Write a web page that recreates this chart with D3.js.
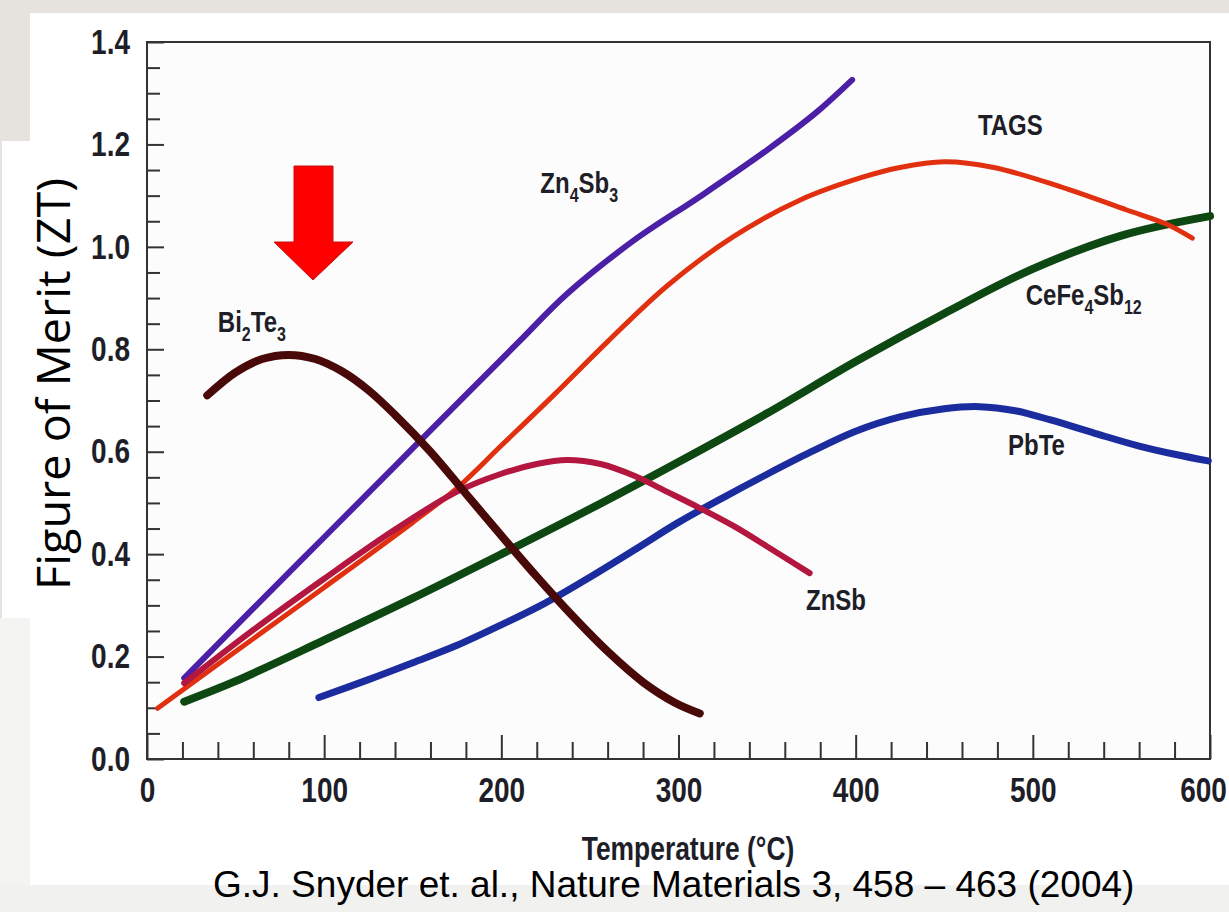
<!DOCTYPE html>
<html>
<head>
<meta charset="utf-8">
<script src="https://cdn.jsdelivr.net/npm/d3@7"></script>
<style>
  body { margin: 0; background: #e6e3df; }
  svg { display: block; }
  .narrow { font-family: 'Liberation Sans', Arial, sans-serif; font-weight: bold; fill: #1e1e28; }
</style>
</head>
<body>
<div id="vis-holder"></div>
<script>

var X_TICKS = [0, 100, 200, 300, 400, 500, 600]
var Y_TICKS = [0.0, 0.2, 0.4, 0.6, 0.8, 1.0, 1.2, 1.4]

// [temperature (C), ZT]
var CEFE4SB12 = [[21,0.112],[50,0.152],[100,0.232],[150,0.314],[200,0.4],[250,0.488],[300,0.58],[350,0.675],[400,0.776],[450,0.87],[500,0.957],[550,1.022],[600,1.06]]
var PBTE = [[97,0.12],[125,0.155],[150,0.188],[175,0.222],[200,0.262],[225,0.305],[250,0.355],[275,0.408],[300,0.462],[325,0.51],[350,0.556],[375,0.6],[400,0.64],[425,0.668],[450,0.684],[470,0.688],[490,0.68],[510,0.662],[535,0.636],[560,0.611],[580,0.595],[599,0.582]]
var ZN4SB3 = [[21,0.158],[60,0.294],[100,0.433],[140,0.572],[180,0.711],[210,0.815],[237,0.908],[275,1.013],[312,1.098],[350,1.189],[378,1.263],[398,1.326]]
var TAGS = [[6,0.099],[50,0.21],[100,0.335],[150,0.462],[175,0.529],[200,0.612],[230,0.712],[260,0.815],[294,0.925],[331,1.02],[369,1.092],[403,1.135],[425,1.155],[450,1.166],[478,1.155],[515,1.118],[553,1.072],[575,1.045],[590,1.017]]
var ZNSB = [[21,0.148],[60,0.252],[100,0.352],[140,0.448],[175,0.522],[200,0.557],[220,0.576],[237,0.584],[256,0.576],[275,0.553],[294,0.521],[312,0.49],[331,0.455],[350,0.415],[374,0.363]]
var BI2TE3 = [[34,0.71],[50,0.755],[65,0.781],[80,0.789],[95,0.781],[110,0.757],[125,0.72],[140,0.672],[160,0.6],[180,0.518],[200,0.436],[220,0.356],[240,0.28],[260,0.21],[280,0.15],[298,0.11],[312,0.089]]

// label text, subscripts as [..]
var LABEL_PARTS = {
  CeFe4Sb12: ["CeFe", ["4"], "Sb", ["12"]],
  PbTe: ["PbTe"],
  Zn4Sb3: ["Zn", ["4"], "Sb", ["3"]],
  TAGS: ["TAGS"],
  ZnSb: ["ZnSb"],
  Bi2Te3: ["Bi", ["2"], "Te", ["3"]]
}
// label anchor in data units
var LABEL_AT = {
  CeFe4Sb12: [496, 0.887], PbTe: [486, 0.594], Zn4Sb3: [222, 1.105],
  TAGS: [469, 1.218], ZnSb: [372, 0.291], Bi2Te3: [40, 0.834]
}

var COLORS = {CeFe4Sb12: "#0d4813", PbTe: "#1b2c9e", Zn4Sb3: "#4b20a6", TAGS: "#e1300f", ZnSb: "#b3173f", Bi2Te3: "#4a0909"}
var WIDTHS = {CeFe4Sb12: 8, PbTe: 7, Zn4Sb3: 6, TAGS: 5, ZnSb: 6, Bi2Te3: 8}

var series = [
  {name: "CeFe4Sb12", values: CEFE4SB12},
  {name: "PbTe", values: PBTE},
  {name: "Zn4Sb3", values: ZN4SB3},
  {name: "TAGS", values: TAGS},
  {name: "ZnSb", values: ZNSB},
  {name: "Bi2Te3", values: BI2TE3}
]

// bold Liberation Sans squeezed sideways looks like the narrow face of the figure
var SQUEEZE = 0.8

var W = 1229, H = 912
var margin = {top: 42, left: 147},
    width = 1063,
    height = 717;

var svg = d3.select("#vis-holder")
  .append("svg")
    .attr("width", W)
    .attr("height", H)

// slide backgrounds
svg.append("rect").attr("width", W).attr("height", H).attr("fill", "#e6e3df")
svg.append("rect").attr("x", 30).attr("y", 13).attr("width", W - 30).attr("height", 872).attr("fill", "#ffffff")
svg.append("rect").attr("x", 0).attr("y", 618).attr("width", 30).attr("height", 267).attr("fill", "#f4f4f3")
svg.append("rect").attr("x", 0).attr("y", 885).attr("width", W).attr("height", 27).attr("fill", "#f1f1f0")
svg.append("rect").attr("x", 2).attr("y", 141).attr("width", 40).attr("height", 477).attr("fill", "#ffffff")

var plot = svg.append("g")
    .attr("transform", "translate(" + margin.left + "," + margin.top + ")");

var x = d3.scaleLinear().domain([0, 600]).range([0, width]);
var y = d3.scaleLinear().domain([0, 1.4]).range([height, 0]);

plot.append("rect")
  .attr("width", width).attr("height", height)
  .attr("fill", "#fcfcfc")

// minor ticks
var yMinor = d3.range(1, 28).map(i => +(i * 0.05).toFixed(2)).filter(v => Math.abs(v / 0.2 - Math.round(v / 0.2)) > 1e-6)
var xMinor = d3.range(1, 30).map(i => i * 20).filter(v => v % 100 != 0)

plot.append("g")
  .call(d3.axisLeft(y).tickValues(yMinor).tickSize(-13).tickFormat(""))
  .call(g => g.select(".domain").remove())
plot.append("g")
  .attr("transform", "translate(0," + height + ")")
  .call(d3.axisBottom(x).tickValues(xMinor).tickSize(-17).tickFormat(""))
  .call(g => g.select(".domain").remove())

// Add Y axis
plot.append("g")
  .attr("class", "yaxis")
  .call(d3.axisLeft(y).tickValues(Y_TICKS).tickSize(-17).tickPadding(17).tickFormat(d3.format(".1f")))
  .call(g => g.select(".domain").remove())

// Add X axis
plot.append("g")
  .attr("class", "xaxis")
  .attr("transform", "translate(0," + height + ")")
  .call(d3.axisBottom(x).tickValues(X_TICKS).tickSize(-24).tickPadding(18))
  .call(g => g.select(".domain").remove())

plot.selectAll(".tick line").attr("stroke", "#333").attr("stroke-width", 2)
plot.selectAll(".yaxis text, .xaxis text")
  .attr("class", "narrow")
  .attr("font-size", 35)
  .style("font-family", null)
  .attr("transform", "scale(" + SQUEEZE + ",1)")
plot.selectAll(".yaxis text").attr("x", -17 / SQUEEZE)
plot.selectAll(".xaxis .tick:last-child text").attr("x", -7 / SQUEEZE)

plot.append("rect")
  .attr("width", width).attr("height", height)
  .attr("fill", "none").attr("stroke", "#333").attr("stroke-width", 2)

// curves
var line = d3.line()
  .x(d => x(d[0]))
  .y(d => y(d[1]))
  .curve(d3.curveCatmullRom.alpha(0.5))

plot.append("g")
  .selectAll("path")
  .data(series)
  .enter()
  .append("path")
    .attr("d", d => line(d.values))
    .attr("fill", "none")
    .attr("stroke", d => COLORS[d.name])
    .attr("stroke-width", d => WIDTHS[d.name])
    .attr("stroke-linecap", "round")
    .attr("stroke-linejoin", "round")

// curve labels
plot.append("g")
  .selectAll("text")
  .data(series)
  .enter()
  .append("text")
    .attr("class", "narrow")
    .attr("transform", d => "translate(" + x(LABEL_AT[d.name][0]) + "," + y(LABEL_AT[d.name][1]) + ") scale(" + SQUEEZE + ",1)")
    .attr("font-size", 30)
    .each(function(d) {
      var t = d3.select(this), wasSub = false
      LABEL_PARTS[d.name].forEach(p => {
        var sub = Array.isArray(p)
        t.append("tspan")
          .text(sub ? p[0] : p)
          .attr("font-size", sub ? 20 : 30)
          .attr("dy", sub ? (wasSub ? 0 : 9) : (wasSub ? -9 : 0))
        wasSub = sub
      })
    })

// arrow
svg.append("path")
  .attr("d", "M294,166 L333,166 L333,242 L353,242 L313,280 L274,242 L294,242 Z")
  .attr("fill", "#ff0000")
  .attr("stroke", "#c81010")
  .attr("stroke-width", 1)

// axis titles
svg.append("text")
  .attr("class", "narrow")
  .attr("transform", "translate(688,860) scale(" + SQUEEZE + ",1)")
  .attr("text-anchor", "middle")
  .attr("font-size", 33)
  .text("Temperature (°C)")

svg.append("text")
  .attr("transform", "translate(70,384) rotate(-90)")
  .attr("text-anchor", "middle")
  .attr("font-family", "'Open Sans', sans-serif")
  .attr("font-size", 46)
  .attr("textLength", 412)
  .attr("lengthAdjust", "spacingAndGlyphs")
  .attr("fill", "#000")
  .text("Figure of Merit (ZT)")

svg.append("text")
  .attr("x", 213).attr("y", 897)
  .attr("font-family", "'Liberation Sans', Arial, sans-serif")
  .attr("font-size", 37)
  .attr("fill", "#000")
  .text("G.J. Snyder et. al., Nature Materials 3, 458 – 463 (2004)")

</script>
</body>
</html>
